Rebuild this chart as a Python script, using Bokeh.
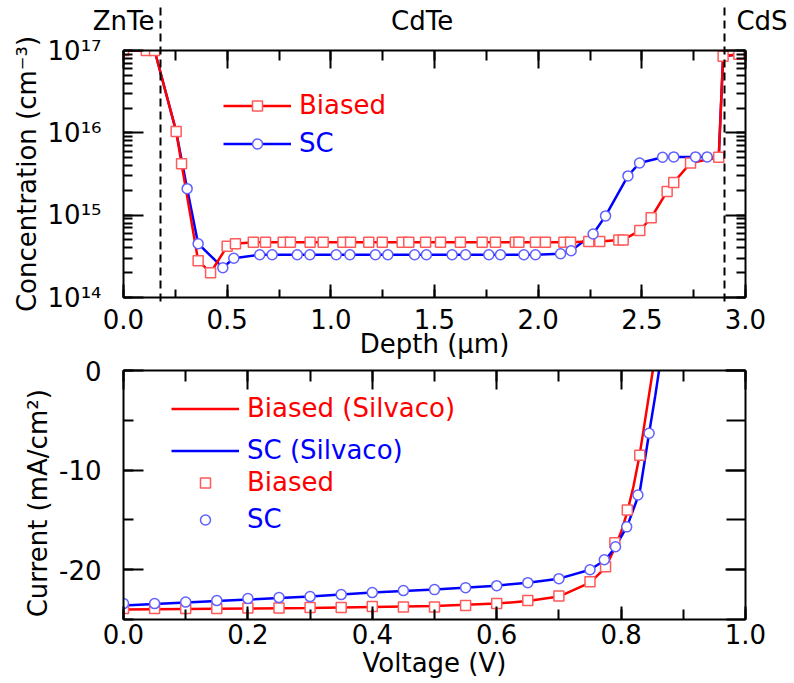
from bokeh.plotting import figure
from bokeh.layouts import column
from bokeh.models import (LinearAxis, LogAxis, SingleIntervalTicker, LogTicker, FixedTicker, Legend,
                          LegendItem, CustomJSTickFormatter, PrintfTickFormatter)
from bokeh.embed import file_html
from bokeh.resources import INLINE

# ---------------- data: doping profile ----------------
biased_depth = [0.0, 0.11, 0.15, 0.254, 0.28, 0.36, 0.42, 0.50, 0.54, 0.626, 0.685, 0.77, 0.805,
                0.90, 0.963, 1.058, 1.095, 1.183, 1.248, 1.344, 1.376, 1.457, 1.529, 1.625, 1.73,
                1.794, 1.89, 1.907, 1.987, 2.035, 2.124, 2.156, 2.244, 2.297, 2.389, 2.41, 2.49,
                2.545, 2.622, 2.654, 2.735, 2.871, 2.892, 2.968]
biased_conc = [1e17, 1e17, 1e17, 1.04e16, 4.2e15, 2.8e14, 2.0e14, 4.2e14, 4.5e14, 4.7e14, 4.7e14,
               4.7e14, 4.7e14, 4.7e14, 4.7e14, 4.7e14, 4.7e14, 4.7e14, 4.7e14, 4.7e14, 4.7e14,
               4.7e14, 4.7e14, 4.7e14, 4.7e14, 4.7e14, 4.7e14, 4.7e14, 4.7e14, 4.7e14, 4.7e14,
               4.7e14, 4.8e14, 4.8e14, 5.0e14, 5.0e14, 6.5e14, 9.3e14, 1.94e15, 2.5e15, 4.3e15,
               5.06e15, 8.5e16, 9.0e16]

sc_depth = [0.0, 0.15, 0.254, 0.307, 0.36, 0.479, 0.532, 0.657, 0.717, 0.838, 0.899, 1.026, 1.092,
            1.215, 1.275, 1.404, 1.461, 1.585, 1.65, 1.762, 1.818, 1.931, 1.987, 2.108, 2.159,
            2.265, 2.325, 2.433, 2.489, 2.6, 2.654, 2.759, 2.815, 2.871, 2.892, 2.968]
sc_conc = [1e17, 1e17, 1.04e16, 2.1e15, 4.5e14, 2.3e14, 3.0e14, 3.3e14, 3.3e14, 3.3e14, 3.3e14,
           3.3e14, 3.3e14, 3.3e14, 3.3e14, 3.3e14, 3.3e14, 3.3e14, 3.3e14, 3.3e14, 3.3e14,
           3.3e14, 3.3e14, 3.4e14, 3.7e14, 5.9e14, 9.8e14, 3.0e15, 4.3e15, 5.06e15, 5.1e15,
           5.1e15, 5.1e15, 5.06e15, 8.5e16, 9.0e16]
sc_marked = slice(3, 33)   # points drawn with circle symbols

boundaries = [0.18, 2.9]              # ZnTe/CdTe and CdTe/CdS interfaces (um)
region_names = ["ZnTe", "CdTe", "CdS"]

# ---------------- data: J-V curves ----------------
sim_biased_v = [0.0, 0.1, 0.2, 0.3, 0.4, 0.5, 0.6, 0.65, 0.7, 0.75, 0.775, 0.79, 0.80, 0.81, 0.82,
                0.83, 0.84, 0.851]
sim_biased_j = [-24.0, -23.95, -23.9, -23.85, -23.75, -23.65, -23.4, -23.15, -22.7, -21.3, -19.8,
                -17.8, -16.2, -14.2, -11.6, -8.4, -4.4, 0.0]
sim_sc_v = [0.0, 0.1, 0.2, 0.3, 0.4, 0.5, 0.6, 0.65, 0.7, 0.75, 0.775, 0.79, 0.81, 0.83, 0.845,
            0.855, 0.861]
sim_sc_j = [-23.6, -23.3, -23.0, -22.7, -22.3, -22.0, -21.6, -21.3, -20.9, -20.0, -19.0, -17.8,
            -15.6, -12.2, -6.3, -2.5, 0.0]

meas_biased_v = [0.0, 0.05, 0.1, 0.15, 0.2, 0.25, 0.3, 0.35, 0.4, 0.45, 0.5, 0.55, 0.6, 0.65, 0.7,
                 0.75, 0.775, 0.79, 0.81, 0.83]
meas_biased_j = [-23.9, -23.9, -23.9, -23.9, -23.85, -23.85, -23.8, -23.8, -23.7, -23.75, -23.75,
                 -23.6, -23.4, -23.1, -22.65, -21.2, -19.7, -17.3, -14.0, -8.5]
meas_sc_v = [0.0, 0.05, 0.1, 0.15, 0.2, 0.25, 0.3, 0.35, 0.4, 0.45, 0.5, 0.55, 0.6, 0.65, 0.7,
             0.75, 0.773, 0.791, 0.809, 0.827, 0.845]
meas_sc_j = [-23.4, -23.4, -23.25, -23.1, -22.9, -22.8, -22.7, -22.5, -22.3, -22.1, -22.0, -21.8,
             -21.6, -21.3, -20.9, -20.0, -19.0, -17.7, -15.7, -12.5, -6.3]

FONT = "DejaVu Sans"
FS = "26px"
RED = "#ff0000"
BLUE = "#0000ff"
RED_MK = "#ff5a5a"
BLUE_MK = "#6060ff"
BLANK = CustomJSTickFormatter(code="return '';")


def style_axis(ax, tin, tmin, labels=True, standoff=8):
    ax.axis_line_width = 2
    ax.major_tick_line_width = 2
    ax.minor_tick_line_width = 2
    ax.major_tick_in = tin
    ax.major_tick_out = 0
    ax.minor_tick_in = tmin
    ax.minor_tick_out = 0
    ax.major_label_text_font = FONT
    ax.major_label_text_font_size = FS
    ax.major_label_text_color = "black"
    ax.major_label_standoff = standoff
    ax.axis_label_text_font = FONT
    ax.axis_label_text_font_size = FS
    ax.axis_label_text_font_style = "normal"
    ax.axis_label_text_color = "black"
    if not labels:
        ax.formatter = BLANK
        ax.major_label_standoff = 0


def add_legend(p, label, renderers, color, x, y):
    lg = Legend(items=[LegendItem(label=label, renderers=renderers)], location=(x, y),
                label_text_color=color, label_text_font=FONT, label_text_font_size=FS,
                glyph_width=68, glyph_height=25, label_height=25, label_standoff=8,
                padding=0, margin=0, spacing=0, border_line_alpha=0, background_fill_alpha=0)
    p.add_layout(lg)


# ================= top panel =================
p1 = figure(width=794, height=362, x_range=(0, 3), y_range=(1e14, 1e17), y_axis_type="log",
            output_backend="svg", toolbar_location=None,
            min_border_left=123, min_border_right=49, min_border_top=50, min_border_bottom=65)
p1.grid.visible = False
p1.outline_line_color = None

p1.xaxis.ticker = SingleIntervalTicker(interval=0.5, num_minor_ticks=2)
p1.xaxis.formatter = PrintfTickFormatter(format="%.1f")
style_axis(p1.xaxis[0], 13, 8, standoff=11)
p1.xaxis.axis_label = "Depth (\u03bcm)"
p1.xaxis.axis_label_standoff = -3

p1.yaxis.ticker = LogTicker(num_minor_ticks=10)
p1.yaxis.formatter = CustomJSTickFormatter(code="""
const s = {"0":"\u2070","1":"\u00b9","2":"\u00b2","3":"\u00b3","4":"\u2074","5":"\u2075",
           "6":"\u2076","7":"\u2077","8":"\u2078","9":"\u2079","-":"\u207b"};
const e = Math.round(Math.log10(tick));
return "10" + String(e).split("").map(c => s[c]).join("");
""")
style_axis(p1.yaxis[0], 20, 9, standoff=22)
p1.yaxis.axis_label = "Concentration (cm\u207b\u00b3)"
p1.yaxis.axis_label_standoff = 3

# top mirror axis: carries the region names as labels
top1 = LinearAxis(ticker=SingleIntervalTicker(interval=0.5, num_minor_ticks=2))
style_axis(top1, 18, 10, standoff=15)
top1.formatter = CustomJSTickFormatter(args=dict(names=region_names), code="""
const sp = "\u00a0";
if (Math.abs(tick) < 1e-9) return names[0];
if (Math.abs(tick - 1.5) < 1e-9) return names[1] + sp.repeat(3);
if (Math.abs(tick - 3.0) < 1e-9) return sp.repeat(4) + names[2];
return "";
""")
p1.add_layout(top1, "above")

# interface markers: long dashed ticks crossing the whole panel
iface = LinearAxis(ticker=FixedTicker(ticks=boundaries, minor_ticks=[]), formatter=BLANK)
iface.axis_line_color = None
iface.major_tick_in = 300
iface.major_tick_out = 0
iface.major_tick_line_width = 2
iface.major_tick_line_dash = "8 5"
iface.major_tick_line_dash_offset = 8
iface.major_label_standoff = 0
iface.major_label_text_font_size = "1px"
p1.add_layout(iface, "above")

right1 = LogAxis(ticker=LogTicker(num_minor_ticks=10))
style_axis(right1, 20, 9, labels=False)
p1.add_layout(right1, "right")

r_sc_line = p1.line(sc_depth, sc_conc, line_color=BLUE, line_width=2.5)
r_b_line = p1.line(biased_depth, biased_conc, line_color=RED, line_width=2.5)
r_b_mk = p1.scatter(biased_depth, biased_conc, marker="square", size=10, line_color=RED_MK,
                    fill_color="white", line_width=1.5)
r_sc_mk = p1.scatter(sc_depth[sc_marked], sc_conc[sc_marked], marker="circle", size=10,
                     line_color=BLUE_MK, fill_color="white", line_width=1.5)

add_legend(p1, "Biased", [r_b_line, r_b_mk], RED, 100, 177)
add_legend(p1, "SC", [r_sc_line, r_sc_mk], BLUE, 100, 139)

# ================= bottom panel =================
# slight negative top margin: the panel's (transparent) top border overlaps the
# bottom of the upper panel, as in the original figure
p2 = figure(width=794, height=329, x_range=(0, 1), y_range=(-25, 0),
            output_backend="svg", toolbar_location=None, margin=(-8, 0, 0, 0),
            min_border_left=123, min_border_right=49, min_border_top=16, min_border_bottom=64)
p2.grid.visible = False
p2.outline_line_color = None
p2.border_fill_alpha = 0

p2.xaxis.ticker = SingleIntervalTicker(interval=0.2, num_minor_ticks=2)
p2.xaxis.formatter = PrintfTickFormatter(format="%.1f")
style_axis(p2.xaxis[0], 13, 10, standoff=4)
p2.xaxis.axis_label = "Voltage (V)"
p2.xaxis.axis_label_standoff = 1

p2.yaxis.ticker = SingleIntervalTicker(interval=10, num_minor_ticks=2)
p2.yaxis.formatter = PrintfTickFormatter(format="%d")
style_axis(p2.yaxis[0], 20, 10, standoff=22)
p2.yaxis.axis_label = "Current (mA/cm\u00b2)\u00a0\u00a0"
p2.yaxis.axis_label_standoff = 3

top2 = LinearAxis(ticker=SingleIntervalTicker(interval=0.2, num_minor_ticks=2))
style_axis(top2, 19, 11, labels=False)
top2.major_label_text_font_size = "1px"
p2.add_layout(top2, "above")
right2 = LinearAxis(ticker=SingleIntervalTicker(interval=10, num_minor_ticks=2))
style_axis(right2, 20, 19, labels=False)
p2.add_layout(right2, "right")

r_sim_b = p2.line(sim_biased_v, sim_biased_j, line_color=RED, line_width=2.5)
r_sim_sc = p2.line(sim_sc_v, sim_sc_j, line_color=BLUE, line_width=2.5)
r_meas_b = p2.scatter(meas_biased_v, meas_biased_j, marker="square", size=10, line_color=RED_MK,
                      fill_color="white", line_width=1.5)
r_meas_sc = p2.scatter(meas_sc_v, meas_sc_j, marker="circle", size=10, line_color=BLUE_MK,
                       fill_color="white", line_width=1.5)

add_legend(p2, "Biased (Silvaco)", [r_sim_b], RED, 48, 196)
add_legend(p2, "SC (Silvaco)", [r_sim_sc], BLUE, 48, 154)
add_legend(p2, "Biased", [r_meas_b], RED, 48, 122)
add_legend(p2, "SC", [r_meas_sc], BLUE, 48, 85)

layout = column(p1, p2, spacing=0)
open("out.html", "w").write(file_html(layout, INLINE))
